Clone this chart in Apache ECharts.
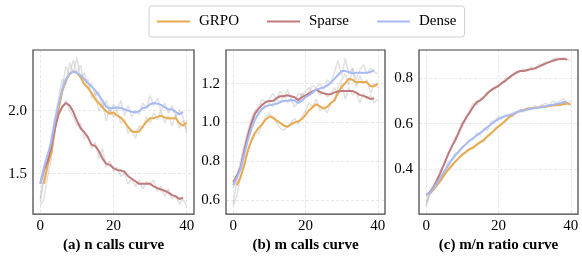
<!DOCTYPE html>
<html>
<head>
<meta charset="utf-8">
<script src="https://cdn.jsdelivr.net/npm/echarts@6/dist/echarts.min.js"></script>
<style>html,body{margin:0;padding:0;background:#fff}#c{width:582px;height:258px}</style>
</head>
<body>
<div id="c"></div>
<script>
// ---------- data (x = step index 0..40) ----------
var seriesNames = ['GRPO', 'Sparse', 'Dense'];
var panelTitles = ['(a) n calls curve', '(b) m calls curve', '(c) m/n ratio curve'];

// (a) n calls – smoothed
var nGRPO = [null, 1.42, 1.57, 1.66, 1.85, 2.01, 2.15, 2.24, 2.29, 2.31, 2.30, 2.265, 2.21, 2.18, 2.14, 2.09, 2.06, 2.025, 1.995, 1.975, 1.985, 1.96, 1.945, 1.91, 1.87, 1.835, 1.83, 1.835, 1.875, 1.91, 1.94, 1.94, 1.95, 1.96, 1.945, 1.94, 1.94, 1.94, 1.90, 1.88, 1.905];
var nSparse = [1.42, 1.53, 1.60, 1.71, 1.86, 1.97, 2.03, 2.06, 2.04, 1.99, 1.92, 1.86, 1.83, 1.79, 1.73, 1.72, 1.68, 1.62, 1.58, 1.57, 1.545, 1.53, 1.525, 1.515, 1.48, 1.46, 1.44, 1.42, 1.42, 1.42, 1.42, 1.40, 1.385, 1.375, 1.365, 1.35, 1.33, 1.32, 1.30, 1.31];
var nDense = [1.42, 1.55, 1.65, 1.75, 1.92, 2.05, 2.17, 2.25, 2.29, 2.31, 2.30, 2.28, 2.25, 2.22, 2.19, 2.16, 2.12, 2.08, 2.03, 2.02, 2.02, 2.025, 2.02, 2.01, 2.0, 1.99, 1.985, 1.995, 2.02, 2.025, 2.05, 2.06, 2.055, 2.045, 2.025, 2.01, 2.01, 1.99, 1.97, 1.99];
// (a) raw
var nGRPORaw = [1.25, 1.30, 1.48, 1.62, 1.90, 2.05, 2.18, 2.35, 2.28, 2.40, 2.30, 2.36, 2.20, 2.25, 2.10, 2.14, 2.00, 2.06, 1.92, 2.02, 1.95, 2.00, 1.90, 1.93, 1.82, 1.85, 1.78, 1.88, 1.86, 1.95, 1.90, 1.98, 1.93, 2.00, 1.90, 1.96, 1.88, 1.97, 1.86, 1.92, 1.85];
var nSparseRaw = [1.30, 1.50, 1.62, 1.78, 1.90, 2.00, 2.02, 2.08, 2.00, 1.95, 1.88, 1.90, 1.78, 1.80, 1.70, 1.75, 1.62, 1.70, 1.55, 1.60, 1.52, 1.55, 1.48, 1.50, 1.42, 1.46, 1.40, 1.45, 1.38, 1.44, 1.42, 1.45, 1.36, 1.40, 1.32, 1.38, 1.30, 1.33, 1.26, 1.30, 1.24];
var nDenseRaw = [1.28, 1.45, 1.55, 1.80, 1.95, 2.10, 2.25, 2.20, 2.38, 2.30, 2.42, 2.25, 2.30, 2.18, 2.22, 2.12, 2.15, 2.02, 2.08, 1.98, 2.05, 2.00, 2.08, 1.96, 2.04, 1.95, 2.00, 1.97, 2.06, 2.02, 2.12, 2.04, 2.10, 2.00, 2.06, 1.98, 2.04, 1.95, 2.00, 1.95, 1.82];

// (b) m calls – smoothed
var mGRPO = [null, 0.675, 0.715, 0.775, 0.85, 0.905, 0.945, 0.97, 0.99, 1.015, 1.03, 1.025, 1.01, 0.997, 0.983, 0.977, 0.99, 1.0, 1.005, 1.017, 1.038, 1.063, 1.08, 1.093, 1.083, 1.071, 1.08, 1.1, 1.113, 1.154, 1.182, 1.203, 1.225, 1.22, 1.207, 1.208, 1.208, 1.207, 1.187, 1.187, 1.2];
var mSparse = [0.69, 0.725, 0.765, 0.85, 0.93, 0.995, 1.045, 1.07, 1.09, 1.105, 1.11, 1.11, 1.125, 1.135, 1.135, 1.14, 1.135, 1.13, 1.115, 1.13, 1.14, 1.15, 1.16, 1.17, 1.157, 1.15, 1.145, 1.145, 1.155, 1.16, 1.162, 1.162, 1.162, 1.162, 1.154, 1.142, 1.137, 1.13, 1.12, 1.125];
var mDense = [0.675, 0.715, 0.757, 0.83, 0.905, 0.965, 1.013, 1.045, 1.07, 1.083, 1.088, 1.093, 1.096, 1.105, 1.11, 1.112, 1.116, 1.112, 1.1, 1.112, 1.13, 1.14, 1.155, 1.17, 1.175, 1.18, 1.19, 1.205, 1.225, 1.245, 1.265, 1.265, 1.26, 1.253, 1.257, 1.256, 1.257, 1.257, 1.26, 1.27];
// (b) raw
var mGRPORaw = [0.57, 0.62, 0.72, 0.80, 0.86, 0.90, 0.95, 0.94, 0.99, 1.03, 1.05, 1.02, 1.00, 0.97, 0.96, 0.98, 1.00, 1.02, 0.99, 1.03, 1.06, 1.10, 1.08, 1.12, 1.06, 1.08, 1.05, 1.10, 1.12, 1.18, 1.22, 1.25, 1.19, 1.28, 1.18, 1.24, 1.20, 1.22, 1.15, 1.20, 1.18];
var mSparseRaw = [0.66, 0.72, 0.80, 0.88, 0.95, 1.02, 1.06, 1.08, 1.12, 1.10, 1.12, 1.15, 1.12, 1.16, 1.13, 1.17, 1.12, 1.11, 1.15, 1.14, 1.16, 1.18, 1.15, 1.17, 1.14, 1.16, 1.13, 1.15, 1.18, 1.14, 1.20, 1.12, 1.18, 1.14, 1.16, 1.10, 1.15, 1.12, 1.14, 1.10, 1.12];
var mDenseRaw = [0.58, 0.70, 0.76, 0.85, 0.92, 0.98, 1.04, 1.06, 1.10, 1.08, 1.10, 1.08, 1.12, 1.10, 1.14, 1.10, 1.12, 1.08, 1.11, 1.15, 1.13, 1.16, 1.19, 1.18, 1.20, 1.17, 1.22, 1.20, 1.26, 1.32, 1.24, 1.33, 1.25, 1.28, 1.22, 1.27, 1.30, 1.25, 1.28, 1.26, 1.25];

// (c) m/n ratio – smoothed
var rGRPO = [null, 0.292, 0.309, 0.33, 0.35, 0.375, 0.396, 0.414, 0.432, 0.449, 0.463, 0.477, 0.488, 0.494, 0.508, 0.519, 0.53, 0.545, 0.559, 0.573, 0.587, 0.6, 0.615, 0.629, 0.639, 0.648, 0.657, 0.66, 0.665, 0.668, 0.67, 0.671, 0.674, 0.674, 0.677, 0.68, 0.681, 0.682, 0.686, 0.688, 0.685];
var rSparse = [0.288, 0.298, 0.32, 0.354, 0.386, 0.424, 0.463, 0.498, 0.526, 0.561, 0.596, 0.625, 0.648, 0.674, 0.695, 0.702, 0.716, 0.733, 0.747, 0.758, 0.765, 0.779, 0.789, 0.803, 0.814, 0.825, 0.831, 0.831, 0.835, 0.839, 0.842, 0.849, 0.856, 0.863, 0.87, 0.876, 0.88, 0.884, 0.884, 0.881];
var rDense = [0.288, 0.295, 0.315, 0.34, 0.365, 0.39, 0.415, 0.44, 0.46, 0.478, 0.495, 0.51, 0.525, 0.537, 0.548, 0.56, 0.572, 0.585, 0.598, 0.61, 0.62, 0.628, 0.633, 0.638, 0.642, 0.65, 0.655, 0.658, 0.662, 0.665, 0.668, 0.67, 0.672, 0.676, 0.68, 0.683, 0.685, 0.69, 0.695, 0.693];
// (c) raw
var rGRPORaw = [0.26, 0.30, 0.31, 0.34, 0.35, 0.38, 0.40, 0.42, 0.43, 0.45, 0.47, 0.47, 0.49, 0.50, 0.51, 0.52, 0.52, 0.55, 0.55, 0.58, 0.59, 0.60, 0.61, 0.63, 0.63, 0.65, 0.65, 0.66, 0.66, 0.67, 0.67, 0.67, 0.68, 0.67, 0.68, 0.68, 0.69, 0.68, 0.69, 0.69, 0.68];
var rSparseRaw = [0.24, 0.30, 0.33, 0.35, 0.40, 0.42, 0.47, 0.49, 0.54, 0.56, 0.61, 0.62, 0.66, 0.69, 0.68, 0.71, 0.72, 0.74, 0.75, 0.75, 0.77, 0.78, 0.80, 0.80, 0.82, 0.82, 0.83, 0.84, 0.83, 0.85, 0.84, 0.86, 0.86, 0.87, 0.87, 0.88, 0.89, 0.88, 0.89, 0.88, 0.88];
var rDenseRaw = [0.24, 0.29, 0.32, 0.33, 0.37, 0.38, 0.43, 0.44, 0.47, 0.47, 0.50, 0.51, 0.53, 0.53, 0.56, 0.55, 0.58, 0.57, 0.61, 0.61, 0.63, 0.62, 0.64, 0.63, 0.65, 0.65, 0.66, 0.65, 0.67, 0.66, 0.68, 0.67, 0.68, 0.69, 0.68, 0.70, 0.69, 0.70, 0.71, 0.69, 0.70];

// axis ranges
var xRange = [-2, 42];
var yRanges = [[1.18, 2.48], [0.526, 1.374], [0.203, 0.923]];
var ySplits = [2, 4, 4];

// ---------- chart ----------
var FONT = '"Liberation Serif", "DejaVu Serif", serif';
var colors = { GRPO: '#E9AA4E', Sparse: '#C17A7C', Dense: '#A8BAF6' };
var grids = [
  { left: 33, top: 50, width: 161, height: 172 },
  { left: 226, top: 50, width: 159, height: 172 },
  { left: 419, top: 50, width: 159, height: 172 }
];
var panels = [
  { smooth: [nGRPO, nSparse, nDense], raw: [nGRPORaw, nSparseRaw, nDenseRaw] },
  { smooth: [mGRPO, mSparse, mDense], raw: [mGRPORaw, mSparseRaw, mDenseRaw] },
  { smooth: [rGRPO, rSparse, rDense], raw: [rGRPORaw, rSparseRaw, rDenseRaw] }
];

function toPairs(arr) {
  var out = [];
  for (var i = 0; i < arr.length; i++) if (arr[i] !== null) out.push([i, arr[i]]);
  return out;
}

var option = {
  animation: false,
  backgroundColor: '#fff',
  textStyle: { fontFamily: FONT },
  legend: {
    left: 149, top: 6,
    icon: 'path://M0,0L33,0L33,2L0,2Z',
    itemWidth: 33, itemHeight: 2, itemGap: 28,
    padding: [8, 8, 8, 8],
    borderColor: '#cfcfcf', borderWidth: 1, borderRadius: 3,
    textStyle: { fontFamily: FONT, fontSize: 15, color: '#000', padding: [0, 0, 0, 4] },
    data: seriesNames
  },
  grid: grids.map(function (g) {
    return Object.assign({ show: true, borderColor: '#404040', borderWidth: 1.2, backgroundColor: 'transparent', z: 10 }, g);
  }),
  xAxis: [], yAxis: [], series: []
};

for (var p = 0; p < 3; p++) {
  option.xAxis.push({
    type: 'value', gridIndex: p, min: xRange[0], max: xRange[1], splitNumber: 2,
    axisLine: { show: false }, axisTick: { show: false },
    axisLabel: { showMinLabel: false, showMaxLabel: false, fontFamily: FONT, fontSize: 15, color: '#000', margin: 4 },
    splitLine: { show: true, showMinLine: false, showMaxLine: false, lineStyle: { type: [3, 2], color: '#e2e2e2', width: 0.8 } },
    name: panelTitles[p], nameLocation: 'middle', nameGap: 20,
    nameTextStyle: { fontFamily: FONT, fontSize: 15, fontWeight: 'bold', color: '#000' }
  });
  option.yAxis.push({
    type: 'value', gridIndex: p, min: yRanges[p][0], max: yRanges[p][1], splitNumber: ySplits[p],
    axisLine: { show: false }, axisTick: { show: false },
    axisLabel: { showMinLabel: false, showMaxLabel: false, fontFamily: FONT, fontSize: 15, color: '#000', margin: 6,
      formatter: function (v) { return v.toFixed(1); } },
    splitLine: { show: true, showMinLine: false, showMaxLine: false, lineStyle: { type: [3, 2], color: '#e2e2e2', width: 0.8 } }
  });
  for (var s = 0; s < 3; s++) {
    option.series.push({
      type: 'line', name: 'raw-' + p + '-' + s, xAxisIndex: p, yAxisIndex: p,
      data: toPairs(panels[p].raw[s]), symbol: 'none', silent: true,
      lineStyle: { color: 'rgba(170,170,170,0.35)', width: 1.5 }, z: 1
    });
  }
  for (var s2 = 0; s2 < 3; s2++) {
    var nm = seriesNames[s2];
    option.series.push({
      type: 'line', name: nm, xAxisIndex: p, yAxisIndex: p,
      data: toPairs(panels[p].smooth[s2]), symbol: 'none', showSymbol: false,
      color: colors[nm],
      lineStyle: { color: colors[nm], width: 2 }, z: 3 + s2
    });
  }
}

var chart = echarts.init(document.getElementById('c'), null, { renderer: 'canvas' });
chart.setOption(option);
</script>
</body>
</html>
